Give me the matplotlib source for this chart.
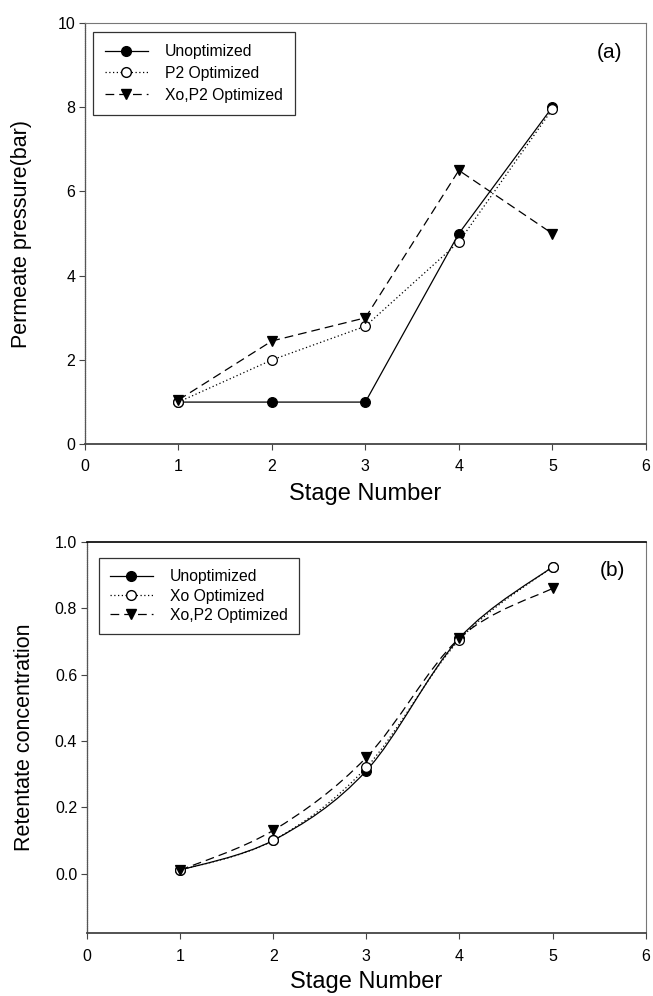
import numpy as np
import matplotlib.pyplot as plt
from matplotlib.path import Path
from matplotlib.patches import PathPatch
from matplotlib.lines import Line2D

plt.rcParams['font.family'] = ['Liberation Sans', 'DejaVu Sans']

stages = [1, 2, 3, 4, 5]

# panel (a) permeate pressure
p_unopt = [1.0, 1.0, 1.0, 5.0, 8.0]
p_p2 = [1.0, 2.0, 2.8, 4.8, 7.95]
p_xop2 = [1.05, 2.45, 3.0, 6.5, 5.0]

# panel (b) retentate concentration
c_unopt = [0.01, 0.10, 0.31, 0.71, 0.925]
c_xo = [0.01, 0.10, 0.32, 0.705, 0.925]
c_xop2 = [0.01, 0.13, 0.35, 0.71, 0.86]

labels_a = ["Unoptimized", "P2 Optimized", "Xo,P2 Optimized"]
labels_b = ["Unoptimized", "Xo Optimized", "Xo,P2 Optimized"]

styles = [
    dict(ls='-', lw=0.9, marker='o', mfc='black', mec='black'),
    dict(ls=(0, (1, 2)), lw=0.9, marker='o', mfc='white', mec='black'),
    dict(ls=(0, (7, 4)), lw=0.9, marker='v', mfc='black', mec='black'),
]


def smooth_path(x, y):
    # catmull-rom through the points, drawn as bezier segments
    pts = np.column_stack([x, y]).astype(float)
    ext = np.vstack([pts[0], pts, pts[-1]])
    verts = [pts[0]]
    codes = [Path.MOVETO]
    for i in range(len(pts) - 1):
        p0, p1, p2, p3 = ext[i], ext[i + 1], ext[i + 2], ext[i + 3]
        verts += [p1 + (p2 - p0) / 6, p2 - (p3 - p1) / 6, p2]
        codes += [Path.CURVE4] * 3
    return Path(verts, codes)


def style_axes(ax):
    for s in ['top', 'right']:
        ax.spines[s].set_color('#777777')
        ax.spines[s].set_linewidth(0.8)
    ax.spines['left'].set_color('#555555')
    ax.spines['left'].set_linewidth(0.9)
    ax.spines['left'].set_linestyle((0, (1, 0.5)))
    ax.spines['bottom'].set_color('#444444')
    ax.spines['bottom'].set_linewidth(1.3)
    ax.tick_params(direction='out', length=4, width=0.8, labelsize=11.5, color='#444444')
    ax.tick_params(axis='x', pad=7)
    ax.tick_params(axis='y', pad=3)
    ax.set_xlim(0, 6)
    ax.set_xticks(range(0, 7))


def make_legend(ax, labels, anchor, bpad, lspace):
    handles = [Line2D([], [], color='black', linestyle=st['ls'], lw=st['lw'],
                      marker=st['marker'], ms=7, mfc=st['mfc'], mec=st['mec'])
               for st in styles]
    leg = ax.legend(handles, labels, loc='upper left', bbox_to_anchor=anchor,
                    borderaxespad=0, fontsize=11.3, frameon=True, fancybox=False,
                    edgecolor='#333333', framealpha=1, handlelength=2.7,
                    borderpad=bpad, labelspacing=lspace, handletextpad=1.1)
    leg.get_frame().set_linewidth(0.9)
    return leg


fig = plt.figure(figsize=(6.53, 9.96), dpi=100)

# --- panel (a)
ax1 = fig.add_axes([0.130, 0.554, 0.859, 0.423])
series_a = [p_unopt, p_p2, p_xop2]
for vals, st in zip(series_a, styles):
    ax1.plot(stages, vals, color='black', linestyle=st['ls'], lw=st['lw'],
             marker=st['marker'], ms=7, mfc=st['mfc'], mec=st['mec'], mew=0.9)
ax1.set_ylim(0, 10)
ax1.set_yticks([0, 2, 4, 6, 8, 10])
style_axes(ax1)
ax1.set_xlabel("Stage Number", fontsize=17)
ax1.xaxis.set_label_coords(0.5, -0.093)
ax1.set_ylabel("Permeate pressure(bar)", fontsize=15.5)
ax1.yaxis.set_label_coords(-0.094, 0.5)
ax1.text(0.936, 0.929, "(a)", transform=ax1.transAxes, fontsize=15,
         ha='center', va='center')
make_legend(ax1, labels_a, (0.0143, 0.9786), 0.78, 0.43)

# --- panel (b)
ax2 = fig.add_axes([0.133, 0.063, 0.856, 0.393])
series_b = [c_unopt, c_xo, c_xop2]
for vals, st in zip(series_b, styles):
    patch = PathPatch(smooth_path(stages, vals), facecolor='none', edgecolor='black',
                      lw=st['lw'], linestyle=st['ls'])
    ax2.add_patch(patch)
for vals, st in zip(series_b, styles):
    ax2.plot(stages, vals, linestyle='none', marker=st['marker'], ms=7,
             mfc=st['mfc'], mec=st['mec'], mew=0.9)
ax2.set_ylim(-0.18, 1.0)
ax2.set_yticks([0.0, 0.2, 0.4, 0.6, 0.8, 1.0])
ax2.set_yticklabels(["0.0", "0.2", "0.4", "0.6", "0.8", "1.0"])
style_axes(ax2)
ax2.spines['top'].set_color('black')
ax2.spines['top'].set_linewidth(1.2)
ax2.set_xlabel("Stage Number", fontsize=17)
ax2.xaxis.set_label_coords(0.5, -0.097)
ax2.set_ylabel("Retentate concentration", fontsize=15.5)
ax2.yaxis.set_label_coords(-0.092, 0.5)
ax2.text(0.94, 0.928, "(b)", transform=ax2.transAxes, fontsize=15,
         ha='center', va='center')
make_legend(ax2, labels_b, (0.0215, 0.959), 0.72, 0.28)

fig.savefig("out.png", dpi=100)
